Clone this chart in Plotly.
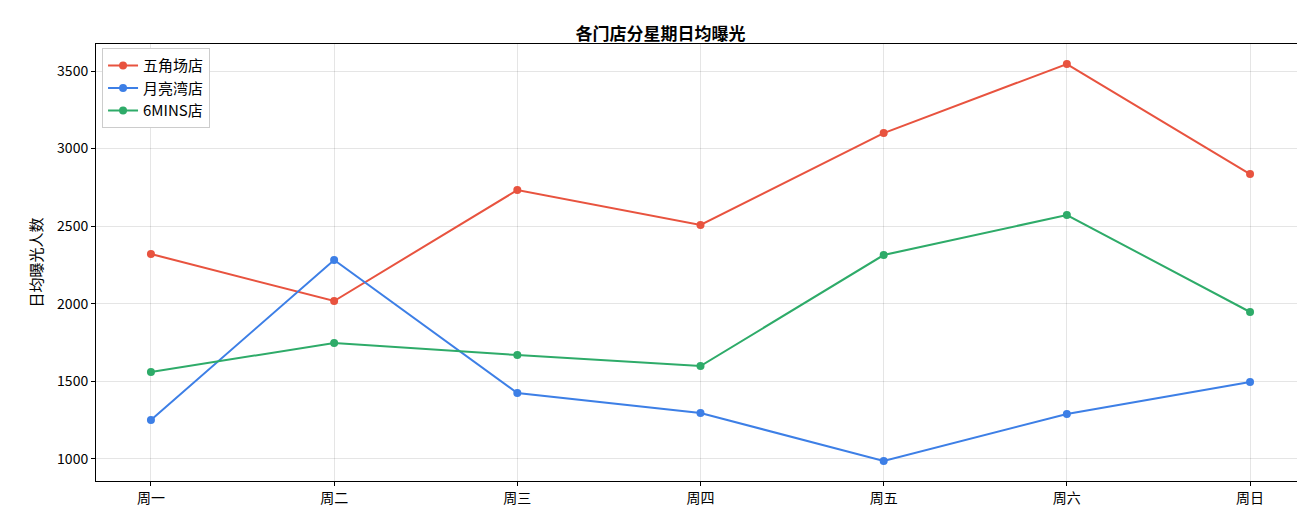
import plotly.graph_objects as go

days = ["周一", "周二", "周三", "周四", "周五", "周六", "周日"]
wujiao = [2321, 2018, 2733, 2508, 3100, 3545, 2836]
yueliang = [1251, 2282, 1425, 1296, 987, 1290, 1496]
mins6 = [1561, 1747, 1670, 1599, 2314, 2572, 1947]

series = [("五角场店", wujiao, "#e8533f"), ("月亮湾店", yueliang, "#3d7fe6"), ("6MINS店", mins6, "#2eab69")]

fig = go.Figure()
for name, vals, col in series:
    fig.add_trace(go.Scatter(x=list(range(len(days))), y=vals, name=name, mode="lines+markers",
                             line=dict(color=col, width=2), marker=dict(size=8, color=col)))

axis_common = dict(showline=True, linecolor="black", linewidth=1, mirror=True, ticks="outside",
                   ticklen=4, tickcolor="black", gridcolor="rgba(0,0,0,0.1)", zeroline=False,
                   automargin=False, tickfont=dict(size=14, color="black"))
fig.update_layout(
    width=1305, height=513, plot_bgcolor="white", paper_bgcolor="white",
    font=dict(family="Noto Sans CJK SC", color="black"),
    title=dict(text="<b>各门店分星期日均曝光</b>", x=0.5, y=0.96, xanchor="center", font=dict(size=17),
               automargin=False),
    margin=dict(l=88, r=8, t=36, b=40, autoexpand=False),
    showlegend=True,
    legend=dict(x=0.005, y=0.99, xanchor="left", yanchor="top", bordercolor="#cccccc", borderwidth=1,
                bgcolor="white", font=dict(size=15)),
)
fig.update_xaxes(tickvals=list(range(len(days))), ticktext=days, range=[-0.3, 6.3], **axis_common)
fig.update_yaxes(range=[858, 3674], dtick=500, title=dict(text="日均曝光人数", font=dict(size=15), standoff=10),
                 **axis_common)
fig.write_html("out.html")
